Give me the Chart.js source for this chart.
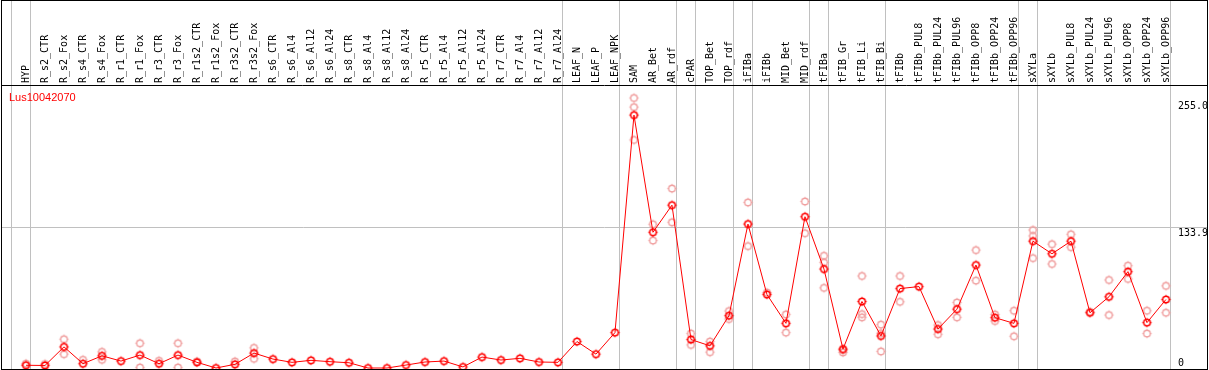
<!DOCTYPE html>
<html>
<head>
<meta charset="utf-8">
<script src="https://cdn.jsdelivr.net/npm/chart.js@4.4.0/dist/chart.umd.min.js"></script>
<style>
  html, body { margin: 0; padding: 0; background: #fff; }
</style>
</head>
<body>
<canvas id="exprChart" width="1209" height="370"></canvas>
<script>
// expression profile for one gene across samples
const geneName = 'Lus10042070';

const categories = [
  'HYP', 'R_s2_CTR', 'R_s2_Fox', 'R_s4_CTR', 'R_s4_Fox', 'R_r1_CTR', 'R_r1_Fox', 'R_r3_CTR', 'R_r3_Fox', 'R_r1s2_CTR',
  'R_r1s2_Fox', 'R_r3s2_CTR', 'R_r3s2_Fox', 'R_s6_CTR', 'R_s6_Al4', 'R_s6_Al12', 'R_s6_Al24', 'R_s8_CTR', 'R_s8_Al4', 'R_s8_Al12',
  'R_s8_Al24', 'R_r5_CTR', 'R_r5_Al4', 'R_r5_Al12', 'R_r5_Al24', 'R_r7_CTR', 'R_r7_Al4', 'R_r7_Al12', 'R_r7_Al24', 'LEAF_N',
  'LEAF_P', 'LEAF_NPK', 'SAM', 'AR_Bet', 'AR_rdf', 'cPAR', 'TOP_Bet', 'TOP_rdf', 'iFIBa', 'iFIBb',
  'MID_Bet', 'MID_rdf', 'tFIBa', 'tFIB_Gr', 'tFIB_Li', 'tFIB_Bi', 'tFIBb', 'tFIBb_PUL8', 'tFIBb_PUL24', 'tFIBb_PUL96',
  'tFIBb_OPP8', 'tFIBb_OPP24', 'tFIBb_OPP96', 'sXYLa', 'sXYLb', 'sXYLb_PUL8', 'sXYLb_PUL24', 'sXYLb_PUL96', 'sXYLb_OPP8', 'sXYLb_OPP24',
  'sXYLb_OPP96'
];

// mean values
const meanValues = [
  2.6, 2.4, 20.1, 4.1, 11.6, 6.6, 12.3, 4.1, 12.3, 5.4,
  0, 3.5, 14.2, 8.5, 5.4, 7.3, 6.0, 5.0, 0, 0,
  2.8, 5.7, 6.6, 1.0, 10.4, 7.6, 9.2, 5.7, 5.4, 25.2,
  13.2, 33.7, 240.7, 129.2, 155.0, 27.1, 21.1, 49.8, 137.0, 69.9,
  42.5, 144.0, 94.2, 18.0, 63.3, 30.5, 75.6, 77.5, 37.1, 56.0,
  98.0, 47.9, 42.5, 120.7, 108.7, 120.7, 52.6, 67.8, 91.7, 43.2,
  65.2
];

// replicate values (null = hidden behind the mean / not shown)
const repA = [
  4.1, 3.8, 27.4, 7.8, 15.4, null, 23.6, 6.9, 23.6, 6.3,
  null, 6.3, 19.2, null, null, null, null, null, null, null,
  null, null, null, null, null, null, null, null, null, null,
  null, null, 257.0, 136.8, 170.8, 32.8, 25.2, 54.2, 157.6, 71.8,
  51.0, 158.5, 106.8, 14.8, 87.6, 41.3, 87.6, null, 40.9, 62.4,
  112.2, 51.0, 54.5, 131.4, 117.9, 127.3, 53.4, 83.8, 97.4, 54.5,
  78.2
];
const repB = [
  null, null, 13.2, null, 7.8, null, 0.5, null, 0.5, null,
  null, null, 8.8, null, null, null, null, null, null, null,
  null, null, null, null, null, null, null, null, null, null,
  null, null, 248.3, 121.3, 138.7, 22.0, 15.1, 46.6, 116.0, null,
  33.7, 128.3, 100.5, 17.0, 51.3, 33.1, 63.0, null, 32.1, 48.2,
  83.2, 44.7, 30.2, 125.7, 99.0, 115.0, null, 50.4, 84.8, 32.8,
  52.6
];
const repC = [
  null, null, null, null, null, null, null, null, null, null,
  null, null, null, null, null, null, null, null, null, null,
  null, null, null, null, null, null, null, null, null, null,
  null, null, 217.1, null, null, null, null, null, null, null,
  null, null, 76.3, null, 48.2, 15.8, null, null, null, null,
  null, null, null, 104.6, null, null, null, null, null, null,
  null
];

const yTicks = [0, 133.9, 255.0];
const yGridAt = [133.9];
// last sample index of each tissue group (-1 = left edge)
const groupEnds = [-1, 0, 28, 31, 34, 35, 37, 38, 41, 42, 45, 52, 53, 60];

// circle with tiny tick nubs, like the original plot
function makeMarker(color, lw) {
  const c = document.createElement('canvas');
  c.width = 13; c.height = 13;
  const g = c.getContext('2d');
  g.strokeStyle = color;
  g.lineWidth = lw;
  g.beginPath(); g.arc(6.5, 6.5, 3.3, 0, Math.PI * 2); g.stroke();
  g.lineWidth = 1;
  g.beginPath();
  g.moveTo(6.5, 1.8); g.lineTo(6.5, 2.8); g.moveTo(6.5, 10.2); g.lineTo(6.5, 11.2);
  g.moveTo(1.8, 6.5); g.lineTo(2.8, 6.5); g.moveTo(10.2, 6.5); g.lineTo(11.2, 6.5);
  g.stroke();
  return c;
}
const mainMarker = makeMarker('#ff0000', 1.6);
const repMarker = makeMarker('#f0a0a0', 1.4);

const toPoints = arr => arr.map((v, i) => v == null ? null : { x: i, y: v }).filter(Boolean);

const decor = {
  id: 'decor',
  beforeDatasetsDraw(chart) {
    const { ctx, chartArea: a, scales: { x, y } } = chart;
    ctx.save();
    ctx.strokeStyle = '#c0c0c0';
    ctx.lineWidth = 1;
    groupEnds.forEach(i => {
      const px = Math.round(x.getPixelForValue(i + 0.22)) + 0.5;
      ctx.beginPath(); ctx.moveTo(px, 0); ctx.lineTo(px, a.bottom); ctx.stroke();
    });
    yGridAt.forEach(v => {
      const py = Math.round(y.getPixelForValue(v)) + 0.5;
      ctx.beginPath(); ctx.moveTo(a.left, py); ctx.lineTo(a.right, py); ctx.stroke();
    });
    ctx.restore();
  },
  afterDraw(chart) {
    const { ctx, chartArea: a, scales: { x, y } } = chart;
    ctx.save();
    // frame
    ctx.strokeStyle = '#000';
    ctx.lineWidth = 1;
    ctx.strokeRect(1.5, 0.5, 1206, 369);
    ctx.beginPath(); ctx.moveTo(1, 85.5); ctx.lineTo(1208, 85.5); ctx.stroke();

    // sample labels, rotated
    ctx.fillStyle = '#000';
    ctx.font = '10px "DejaVu Sans Mono"';
    ctx.textAlign = 'left';
    ctx.textBaseline = 'middle';
    categories.forEach((lab, i) => {
      ctx.save();
      ctx.translate(x.getPixelForValue(i), 83);
      ctx.rotate(-Math.PI / 2);
      ctx.fillText(lab, 0, 0);
      ctx.restore();
    });

    // y labels on the right
    ctx.textBaseline = 'alphabetic';
    yTicks.forEach(v => {
      const py = Math.min(y.getPixelForValue(v) + 9, a.bottom - 3);
      ctx.fillText(v === 0 ? '0' : v.toFixed(1), 1178, py);
    });

    // gene name
    ctx.fillStyle = '#ff0000';
    ctx.font = '11px "Liberation Sans"';
    ctx.fillText(geneName, 9, 101);
    ctx.restore();
  }
};

const ctx = document.getElementById('exprChart');
const chart = new Chart(ctx, {
  type: 'line',
  data: {
    datasets: [
      {
        data: toPoints(meanValues),
        borderColor: '#ff0000', borderWidth: 1,
        pointStyle: mainMarker, pointRadius: 4,
        tension: 0, order: 0
      },
      { data: toPoints(repA), showLine: false, pointStyle: repMarker, pointRadius: 4, order: 1 },
      { data: toPoints(repB), showLine: false, pointStyle: repMarker, pointRadius: 4, order: 1 },
      { data: toPoints(repC), showLine: false, pointStyle: repMarker, pointRadius: 4, order: 1 }
    ]
  },
  options: {
    responsive: false,
    animation: false,
    devicePixelRatio: 1,
    events: [],
    layout: { autoPadding: false, padding: { top: 86, left: 2, right: 2, bottom: 1 } },
    scales: {
      x: { type: 'linear', min: -1.263, max: 62.16, display: false },
      y: { type: 'linear', min: -0.95, max: 268.4, display: false }
    },
    plugins: { legend: { display: false }, tooltip: { enabled: false } }
  },
  plugins: [decor]
});
</script>
</body>
</html>
